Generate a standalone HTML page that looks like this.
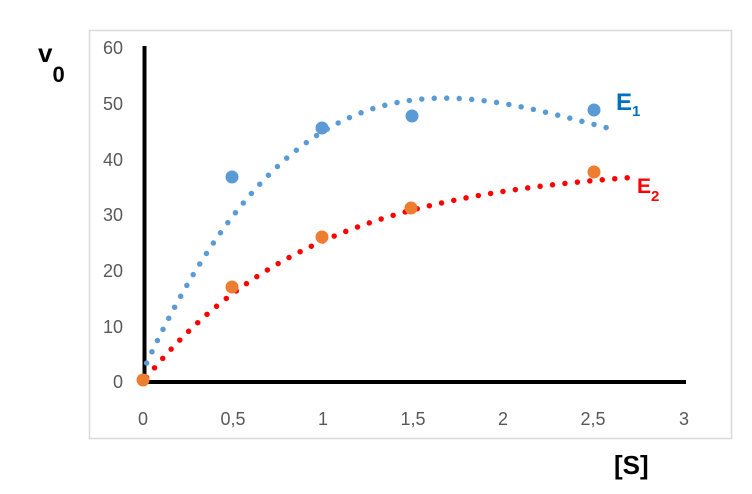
<!DOCTYPE html>
<html><head><meta charset="utf-8"><style>
html,body{margin:0;padding:0;background:#fff;}
svg{display:block;}
text{font-family:"Liberation Sans",sans-serif;}
</style></head><body>
<svg id="s" width="752" height="494" viewBox="0 0 752 494" xmlns="http://www.w3.org/2000/svg">
<rect x="89.5" y="30.5" width="642" height="408" fill="#fff" stroke="#d9d9d9" stroke-width="1.5"/>
<g fill="#595959" font-size="18" text-anchor="end">
<text x="123" y="54">60</text>
<text x="123" y="110">50</text>
<text x="123" y="166">40</text>
<text x="123" y="221">30</text>
<text x="123" y="277">20</text>
<text x="123" y="333">10</text>
<text x="123" y="388">0</text>
</g>
<g fill="#595959" font-size="18" text-anchor="middle">
<text x="143" y="425">0</text>
<text x="233" y="425">0,5</text>
<text x="323" y="425">1</text>
<text x="413" y="425">1,5</text>
<text x="503" y="425">2</text>
<text x="593" y="425">2,5</text>
<text x="684" y="425">3</text>
</g>
<line x1="144.5" y1="46" x2="144.5" y2="384" stroke="#000" stroke-width="4"/>
<line x1="142" y1="382" x2="686" y2="382" stroke="#000" stroke-width="4"/>
<path id="blue" fill="none" stroke="#5b9bd5" stroke-width="5.5" stroke-linecap="round" stroke-dasharray="0 12.5"/>
<path id="red" fill="none" stroke="#ff0000" stroke-width="5.5" stroke-linecap="round" stroke-dasharray="0 12.5"/>
<g fill="#5b9bd5">
<circle cx="232" cy="177" r="6.5"/>
<circle cx="322" cy="128" r="6.5"/>
<circle cx="412" cy="116" r="6.5"/>
<circle cx="594" cy="110" r="6.5"/>
</g>
<g fill="#ed7d31">
<circle cx="143" cy="380" r="6.5"/>
<circle cx="232" cy="287" r="6.5"/>
<circle cx="322" cy="237" r="6.5"/>
<circle cx="411" cy="208" r="6.5"/>
<circle cx="594" cy="172" r="6.5"/>
</g>
<text x="616" y="110" font-size="24" font-weight="bold" fill="#0070c0">E<tspan font-size="15" dy="6">1</tspan></text>
<text x="637" y="193" font-size="21" font-weight="bold" fill="#ff0000">E<tspan font-size="15" dy="8">2</tspan></text>
<text x="38" y="62" font-size="26" font-weight="bold" fill="#000">v<tspan font-size="22" dy="20">0</tspan></text>
<text x="614" y="474" font-size="26" font-weight="bold" fill="#000">[S]</text>
</svg>
<script>
function X(x){return 143+180*x;}
function Y(y){return 382-5.567*y;}
function mk(f,x0,x1){var d="";for(var i=0;i<=200;i++){var x=x0+(x1-x0)*i/200;d+=(i?"L":"M")+X(x).toFixed(2)+" "+Y(f(x)).toFixed(2);}return d;}
document.getElementById("blue").setAttribute("d",mk(function(x){return 2+70.5*x-31.77*x*x+4.264*x*x*x;},0.02,2.6));
document.getElementById("red").setAttribute("d",mk(function(x){return 39*(1-Math.exp(-1.05*x));},0.02,2.75));
</script>
</body></html>
